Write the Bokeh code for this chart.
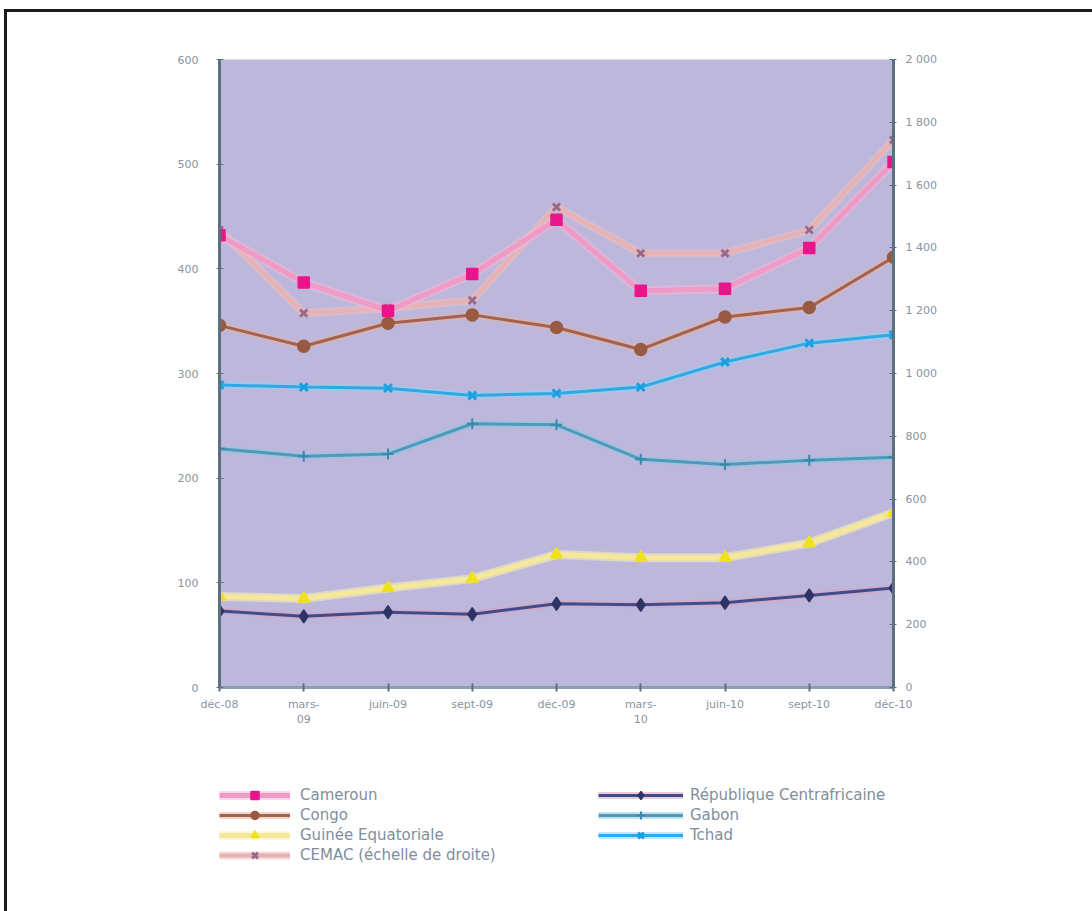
from bokeh.plotting import figure
from bokeh.models import (Range1d, LinearAxis, FixedTicker, Legend, LegendItem,
                          ColumnDataSource)
from bokeh.layouts import column
from bokeh.embed import file_html
from bokeh.resources import INLINE

# ---------------- data ----------------
periods = ["déc-08", "mars-09", "juin-09", "sept-09", "déc-09",
           "mars-10", "juin-10", "sept-10", "déc-10"]
tick_labels = ["déc-08", "mars-\n09", "juin-09", "sept-09", "déc-09",
               "mars-\n10", "juin-10", "sept-10", "déc-10"]

cameroun = [432, 387, 360, 395, 447, 379, 381, 420, 502]
congo = [346, 326, 348, 356, 344, 323, 354, 363, 411]
guinee = [87, 85, 95, 104, 127, 124, 124, 138, 167]
cemac = [1457, 1192, 1208, 1233, 1530, 1383, 1383, 1457, 1744]   # right scale
rca = [73, 68, 72, 70, 80, 79, 81, 88, 95]
gabon = [228, 221, 223, 252, 251, 218, 213, 217, 220]
tchad = [289, 287, 286, 279, 281, 287, 311, 329, 337]

left_ticks = [0, 100, 200, 300, 400, 500, 600]
right_ticks = [0, 200, 400, 600, 800, 1000, 1200, 1400, 1600, 1800, 2000]
right_labels = ["0", "200", "400", "600", "800", "1 000", "1 200", "1 400",
                "1 600", "1 800", "2 000"]

xs = list(range(len(periods)))

# ---------------- figure ----------------
FONT = "DejaVu Sans"
LABEL_COL = "#8794a0"
W = 1085

p = figure(width=W, height=717, output_backend="svg", toolbar_location=None,
           x_range=Range1d(xs[0], xs[-1]), y_range=Range1d(0, 600),
           min_border_left=212, min_border_right=199,
           min_border_top=47, min_border_bottom=25)
p.background_fill_color = "#bdb8db"
p.border_fill_color = "white"
p.outline_line_color = None
p.grid.visible = False
p.extra_y_ranges = {"right": Range1d(0, 2000)}

# x axis
xa = p.xaxis[0]
xa.ticker = FixedTicker(ticks=xs)
xa.major_label_overrides = {i: t for i, t in zip(xs, tick_labels)}
xa.axis_line_color = "#8a9fb0"
xa.axis_line_width = 3
xa.major_tick_line_color = "#5c7080"
xa.major_tick_line_width = 2
xa.major_tick_in = 4
xa.major_tick_out = 4
xa.minor_tick_line_color = None
xa.major_label_text_font = FONT
xa.major_label_text_font_size = "11px"
xa.major_label_text_color = LABEL_COL
xa.major_label_standoff = 6

# left axis
ya = p.yaxis[0]
ya.ticker = FixedTicker(ticks=left_ticks)
ya.axis_line_color = "#5c7080"
ya.axis_line_width = 3
ya.major_tick_line_color = "#5c7080"
ya.major_tick_in = 4
ya.major_tick_out = 3
ya.minor_tick_line_color = None
ya.major_label_text_font = FONT
ya.major_label_text_font_size = "11px"
ya.major_label_text_color = LABEL_COL
ya.major_label_standoff = 18

# right axis
ra = LinearAxis(y_range_name="right", ticker=FixedTicker(ticks=right_ticks))
ra.major_label_overrides = {t: l for t, l in zip(right_ticks, right_labels)}
ra.axis_line_color = "#5c7080"
ra.axis_line_width = 3
ra.major_tick_line_color = "#5c7080"
ra.major_tick_in = 4
ra.major_tick_out = 3
ra.minor_tick_line_color = None
ra.major_label_text_font = FONT
ra.major_label_text_font_size = "11px"
ra.major_label_text_color = LABEL_COL
ra.major_label_standoff = 9
p.add_layout(ra, "right")

# legend figure (below the chart)
lf = figure(width=W, height=182, output_backend="svg", toolbar_location=None,
            x_range=Range1d(0, 1), y_range=Range1d(0, 1),
            x_axis_type=None, y_axis_type=None,
            min_border_left=0, min_border_right=0,
            min_border_top=0, min_border_bottom=0)
lf.grid.visible = False
lf.outline_line_color = None
lf.background_fill_color = "white"
lf.border_fill_color = "white"


def series(vals, name, halo, line, lw, marker, mcolor, msize, mlw=1.5, rng="default"):
    src = ColumnDataSource(dict(x=xs, y=vals))
    p.line("x", "y", source=src, line_color=halo, line_width=lw + 4,
           line_alpha=0.55, y_range_name=rng)
    p.line("x", "y", source=src, line_color=line, line_width=lw,
           y_range_name=rng)
    p.scatter("x", "y", source=src, marker=marker, size=msize,
              fill_color=mcolor, line_color=mcolor, line_width=mlw,
              y_range_name=rng)
    # legend proxies in the legend figure (placed outside its visible range)
    e = ColumnDataSource(dict(x=[-10, -11], y=[-10, -11]))
    rs = [lf.line("x", "y", source=e, line_color=halo, line_width=lw + 4,
                  line_alpha=0.55),
          lf.line("x", "y", source=e, line_color=line, line_width=lw),
          lf.scatter("x", "y", source=e, marker=marker, size=msize,
                     fill_color=mcolor, line_color=mcolor, line_width=mlw)]
    return LegendItem(label=name, renderers=rs)


it_cemac = series(cemac, "CEMAC (échelle de droite)", "#f0c0c0", "#e8b2b4", 4,
                  "x", "#9a6a8c", 10, 3, rng="right")
it_rca = series(rca, "République Centrafricaine", "#dca2bc", "#3d4c8c", 3,
                "diamond", "#2e3566", 13)
it_guinee = series(guinee, "Guinée Equatoriale", "#fbf2b0", "#f5e89a", 5,
                   "triangle", "#f0e218", 12)
it_gabon = series(gabon, "Gabon", "#90c6de", "#4d9abd", 3, "cross",
                  "#3887ad", 11, 2)
it_congo = series(congo, "Congo", "#e6b2a2", "#a5614c", 3, "circle",
                  "#985a40", 12)
it_tchad = series(tchad, "Tchad", "#8fd4f4", "#2fa8e6", 3, "x", "#1a9fe0", 11, 3)
it_cam = series(cameroun, "Cameroun", "#f6b6d8", "#f09ac6", 5, "square",
                "#e8168a", 11)

leg_common = dict(label_text_font=FONT, label_text_font_size="15px",
                  label_text_color="#7f8e9c", glyph_height=20,
                  label_height=20, spacing=0, padding=0,
                  margin=0, border_line_alpha=0, background_fill_alpha=0)

leg1 = Legend(items=[it_cam, it_congo, it_guinee, it_cemac],
              location=(0, 46), glyph_width=71, label_standoff=10, **leg_common)
leg2 = Legend(items=[it_rca, it_gabon, it_tchad],
              location=(379, 66), glyph_width=85, label_standoff=7, **leg_common)
lf.add_layout(leg1, "center")
lf.add_layout(leg2, "center")

page = column(p, lf, spacing=0,
              styles={"border-top": "3px solid #1a1a1a",
                      "border-left": "3px solid #1a1a1a",
                      "margin-top": "9px", "margin-left": "4px"})

open("out.html", "w").write(file_html(page, INLINE))
